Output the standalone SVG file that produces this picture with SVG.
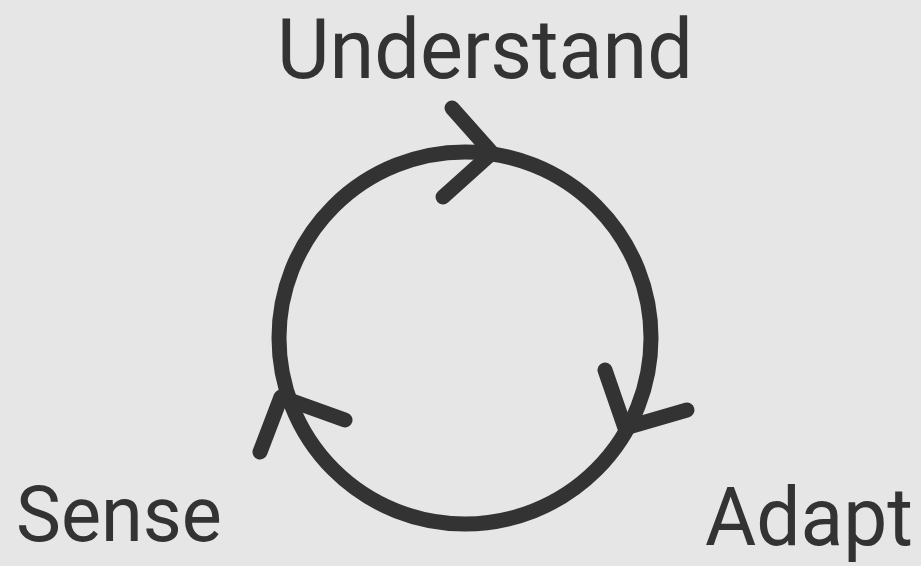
<svg xmlns="http://www.w3.org/2000/svg" width="921" height="566" viewBox="0 0 921 566">
<style>
.ln{fill:none;stroke:#333333;stroke-width:15;stroke-linecap:round;stroke-linejoin:round}
.lb{font-family:Roboto,"Liberation Sans",sans-serif;fill:#333333}
</style>
<rect width="921" height="566" fill="#e6e6e6"/>
<g id="connectors">
<circle class="ln" cx="465" cy="338" r="186"/>
<polyline class="ln" points="452,108 492,153 443,197"/>
<polyline class="ln" points="605,370 625,428 687,410"/>
<polyline class="ln" points="260,452 281,397 345,420"/>
</g>
<g id="understand"><text class="lb" x="277" y="78" font-size="84" textLength="416" lengthAdjust="spacingAndGlyphs">Understand</text></g>
<g id="sense"><text class="lb" x="16" y="541" font-size="78" textLength="206" lengthAdjust="spacingAndGlyphs">Sense</text></g>
<g id="adapt"><text class="lb" x="705" y="545" font-size="81" textLength="208" lengthAdjust="spacingAndGlyphs">Adapt</text></g>
</svg>
